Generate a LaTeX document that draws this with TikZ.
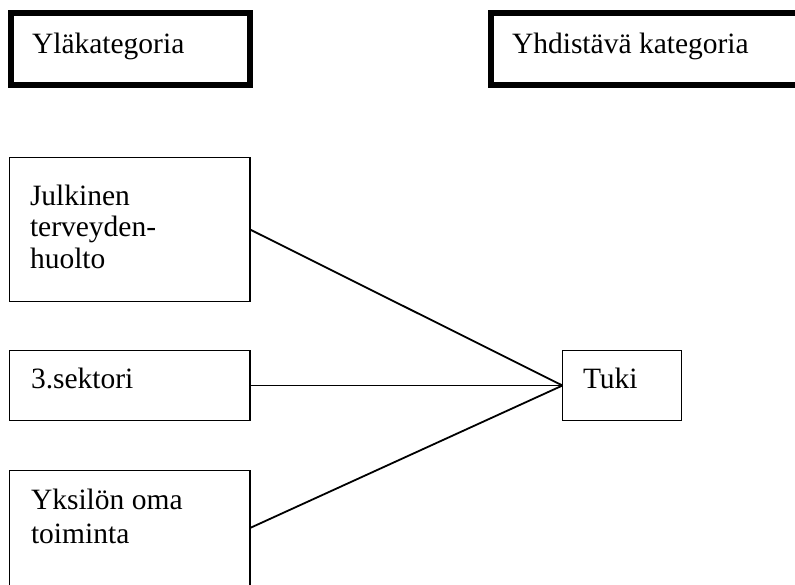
\documentclass[tikz,border=0pt]{standalone}
\usepackage{fontspec}
\setmainfont{Liberation Serif}
\begin{document}
\begin{tikzpicture}[x=1pt,y=-1pt,
  headbox/.style={draw=black,line width=6pt,rectangle,inner sep=0pt,outer sep=0pt},
  itembox/.style={draw=black,line width=1.8pt,rectangle,inner sep=0pt,outer sep=0pt},
  label/.style={anchor=base west,inner sep=0pt,outer sep=0pt,align=left,font=\fontsize{29.5}{31.5}\selectfont},
  link/.style={draw=black,line width=1.8pt}]
\useasboundingbox (0,0) rectangle (795,584);
\clip (0,0) rectangle (795,584);
% header boxes
\node[headbox,minimum width=239.5pt,minimum height=72pt] (head1) at (130.25,49) {};
\node[headbox,minimum width=319.5pt,minimum height=72pt] (head2) at (650.25,49) {};
\node[label] (t1) at (32,53) {Yläkategoria};
\node[label] (t2) at (512,53) {Yhdistävä kategoria};
% item boxes
\node[itembox,minimum width=240.5pt,minimum height=144pt] (box3) at (129.75,229.5) {};
\node[itembox,minimum width=240.5pt,minimum height=70pt] (box4) at (129.75,385.5) {};
\node[itembox,minimum width=240.5pt,minimum height=129.5pt] (box5) at (129.75,535.25) {};
\node[itembox,minimum width=119pt,minimum height=70pt] (tuki) at (622,385.5) {};
\node[label] (t3) at (30,268) {Julkinen\\terveyden-\\huolto};
\node[label] (t4) at (31,388) {3.sektori};
\node[label,font=\fontsize{29.5}{34}\selectfont] (t5) at (31,543) {Yksilön oma\\toiminta};
\node[label] (t6) at (583,388) {Tuki};
% connectors
\draw[link] (box3.east) -- (tuki.west);
\draw[link] (box4.east) -- (tuki.west);
\draw[link] ([yshift=-57.5pt]box5.north east) -- (tuki.west);
\end{tikzpicture}
\end{document}
